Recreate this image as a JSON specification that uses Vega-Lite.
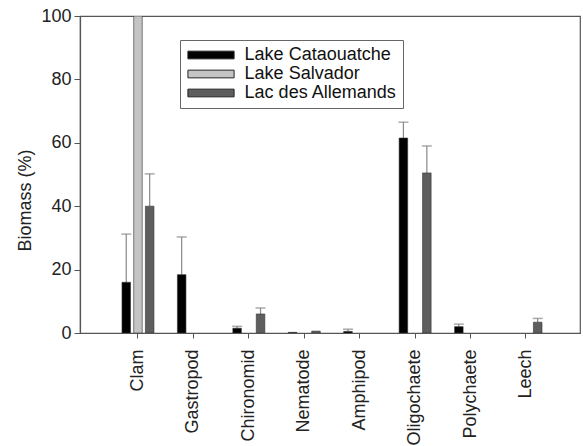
{
  "$schema": "https://vega.github.io/schema/vega-lite/v6.json",
  "width": 500,
  "height": 317,
  "autosize": "none",
  "padding": {"left": 80, "top": 16, "right": 3, "bottom": 113},
  "background": "white",
  "config": {
    "font": "Liberation Sans",
    "view": {"stroke": "#555", "strokeWidth": 1.2},
    "axis": {"grid": false, "domainColor": "#555", "tickColor": "#555", "labelColor": "#222", "titleColor": "#222", "labelFont": "Liberation Sans", "titleFont": "Liberation Sans", "domainWidth": 1.2}
  },
  "data": {
    "values": [
      {"taxon": "Clam", "lake": "Lake Cataouatche", "mean": 16, "upper": 31.2},
      {"taxon": "Clam", "lake": "Lake Salvador", "mean": 100, "upper": null},
      {"taxon": "Clam", "lake": "Lac des Allemands", "mean": 40, "upper": 50.2},
      {"taxon": "Gastropod", "lake": "Lake Cataouatche", "mean": 18.4, "upper": 30.3},
      {"taxon": "Chironomid", "lake": "Lake Cataouatche", "mean": 1.5, "upper": 2.1},
      {"taxon": "Chironomid", "lake": "Lac des Allemands", "mean": 6, "upper": 7.9},
      {"taxon": "Nematode", "lake": "Lake Cataouatche", "mean": 0.2, "upper": null},
      {"taxon": "Nematode", "lake": "Lac des Allemands", "mean": 0.6, "upper": null},
      {"taxon": "Amphipod", "lake": "Lake Cataouatche", "mean": 0.5, "upper": 1.2},
      {"taxon": "Oligochaete", "lake": "Lake Cataouatche", "mean": 61.5, "upper": 66.5},
      {"taxon": "Oligochaete", "lake": "Lac des Allemands", "mean": 50.5, "upper": 59},
      {"taxon": "Polychaete", "lake": "Lake Cataouatche", "mean": 2, "upper": 2.8},
      {"taxon": "Leech", "lake": "Lac des Allemands", "mean": 3.4, "upper": 4.6}
    ]
  },
  "encoding": {
    "x": {
      "field": "taxon",
      "type": "nominal",
      "sort": ["Clam", "Gastropod", "Chironomid", "Nematode", "Amphipod", "Oligochaete", "Polychaete", "Leech"],
      "scale": {"paddingInner": 0, "paddingOuter": 0.51, "align": 0.535},
      "axis": {"title": null, "labelAngle": -90, "labelAlign": "right", "labelBaseline": "middle", "labelFontSize": 18, "labelPadding": 11, "tickSize": 5}
    },
    "xOffset": {
      "field": "lake",
      "type": "nominal",
      "scale": {"domain": ["Lake Cataouatche", "Lake Salvador", "Lac des Allemands"], "paddingInner": 0.27, "paddingOuter": 1.0}
    }
  },
  "layer": [
    {
      "mark": {"type": "rule", "color": "#888", "strokeWidth": 1.2},
      "transform": [{"filter": "datum.upper != null"}],
      "encoding": {
        "y": {"field": "mean", "type": "quantitative"},
        "y2": {"field": "upper"}
      }
    },
    {
      "mark": {"type": "tick", "color": "#888", "thickness": 1.5, "size": 10},
      "transform": [{"filter": "datum.upper != null"}],
      "encoding": {
        "y": {"field": "upper", "type": "quantitative"}
      }
    },
    {
      "mark": {"type": "bar", "stroke": "#333", "strokeWidth": 0.6, "clip": true},
      "encoding": {
        "y": {
          "field": "mean",
          "type": "quantitative",
          "scale": {"domain": [0, 100]},
          "axis": {"title": "Biomass (%)", "values": [0, 20, 40, 60, 80, 100], "labelFontSize": 18, "titleFontSize": 18, "titleFontWeight": "normal", "tickSize": 6, "labelPadding": 3, "titleX": -55, "titleY": 184, "titleBaseline": "middle", "titleAngle": -90, "titleAlign": "center"}
        },
        "color": {
          "field": "lake",
          "type": "nominal",
          "scale": {"domain": ["Lake Cataouatche", "Lake Salvador", "Lac des Allemands"], "range": ["#000000", "#c4c4c4", "#5e5e5e"]},
          "legend": {
            "title": null,
            "orient": "none",
            "legendX": 100,
            "legendY": 24,
            "labelFontSize": 18,
            "labelColor": "#111",
            "symbolType": "M-3,-0.5H3V0.5H-3Z",
            "symbolSize": 237,
            "symbolOffset": 16,
            "symbolStrokeColor": "#222",
            "symbolStrokeWidth": 1,
            "rowPadding": 1,
            "labelOffset": 24.6,
            "strokeColor": "#666",
            "padding": 6,
            "fillColor": "white"
          }
        }
      }
    }
  ]
}
